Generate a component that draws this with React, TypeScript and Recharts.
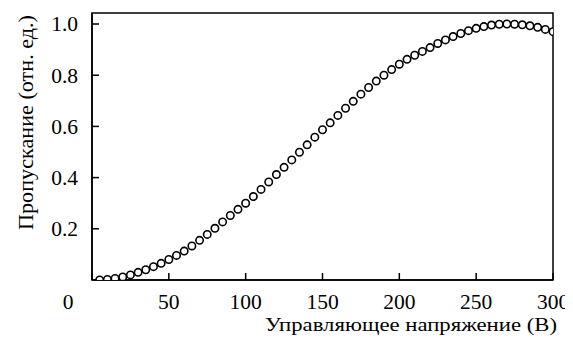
import React from "react";
import { ScatterChart, Scatter, XAxis, YAxis, ReferenceArea, Label } from "recharts";

const voltages = [
  5, 10, 15, 20, 25, 30, 35, 40, 45, 50, 55, 60, 65, 70, 75, 80, 85, 90, 95, 100,
  105, 110, 115, 120, 125, 130, 135, 140, 145, 150, 155, 160, 165, 170, 175, 180, 185, 190, 195, 200,
  205, 210, 215, 220, 225, 230, 235, 240, 245, 250, 255, 260, 265, 270, 275, 280, 285, 290, 295, 300,
];
const transmission = [
  0.0, 0.002, 0.006, 0.012, 0.02, 0.03, 0.04, 0.052, 0.065, 0.08, 0.096, 0.113, 0.133, 0.155, 0.178, 0.202, 0.227, 0.252, 0.276, 0.3,
  0.326, 0.354, 0.383, 0.412, 0.44, 0.469, 0.499, 0.528, 0.558, 0.587, 0.614, 0.643, 0.671, 0.698, 0.726, 0.752, 0.777, 0.8, 0.822, 0.843,
  0.862, 0.878, 0.893, 0.908, 0.924, 0.938, 0.951, 0.963, 0.974, 0.983, 0.99, 0.996, 0.999, 1.0, 0.999, 0.997, 0.993, 0.987, 0.979, 0.97,
];
const xTicks = [0, 50, 100, 150, 200, 250, 300];
const yTicks = [0.2, 0.4, 0.6, 0.8, 1.0];
const xTitle = "Управляющее напряжение (В)";
const yTitle = "Пропускание (отн. ед.)";

const data = voltages.map((v, i) => ({ v, t: transmission[i] }));

const FONT = "'Liberation Serif', 'Times New Roman', serif";
const TICK_FS = 21.5;
const TITLE_FS = 18.5;

const XTick = (props: any) => {
  const { x, payload } = props;
  const dx = payload.value === 0 ? -24 : 0;
  return (
    <text x={x + dx} y={301} textAnchor="middle" fontFamily={FONT} fontSize={TICK_FS} fill="#000">
      {payload.value}
    </text>
  );
};

const YTick = (props: any) => {
  const { y, payload } = props;
  return (
    <text x={70} y={y} dy="0.34em" textAnchor="end" fontFamily={FONT} fontSize={TICK_FS} fill="#000">
      {Number(payload.value).toFixed(1)}
    </text>
  );
};

const Dot = (props: any) => {
  const { cx, cy } = props;
  return <circle cx={cx} cy={cy} r={3.7} fill="#fff" stroke="#000" strokeWidth={1.6} />;
};

export default function App() {
  return (
    <div style={{ width: 565, height: 332 }}>
      <ScatterChart width={565} height={332} margin={{ top: 5, right: 20, bottom: 8, left: 0 }}>
        <ReferenceArea x1={0} x2={300} y1={0} y2={1.043} fill="none" stroke="#000" strokeWidth={1.5} ifOverflow="visible" />
        <XAxis
          type="number"
          dataKey="v"
          domain={[0, 300]}
          ticks={xTicks}
          height={52}
          tickSize={-7}
          tickMargin={23}
          tick={<XTick />}
          axisLine={{ stroke: "#000", strokeWidth: 1.5 }}
          tickLine={{ stroke: "#000", strokeWidth: 1.5 }}
          allowDataOverflow
        >
          <Label
            content={() => (
              <text
                x={257}
                y={323}
                textLength={292}
                lengthAdjust="spacingAndGlyphs"
                fontFamily={FONT}
                fontSize={TITLE_FS}
                fill="#000"
              >
                {xTitle}
              </text>
            )}
          />
        </XAxis>
        <YAxis
          type="number"
          dataKey="t"
          domain={[0, 1.043]}
          ticks={yTicks}
          width={84}
          tickSize={-7}
          tickMargin={21}
          tick={<YTick />}
          axisLine={{ stroke: "#000", strokeWidth: 1.5 }}
          tickLine={{ stroke: "#000", strokeWidth: 1.5 }}
          allowDataOverflow
        >
          <Label
            content={() => (
              <text
                x={0}
                y={0}
                transform="translate(25 222) rotate(-90)"
                textLength={215}
                lengthAdjust="spacingAndGlyphs"
                fontFamily={FONT}
                fontSize={20}
                fill="#000"
              >
                {yTitle}
              </text>
            )}
          />
        </YAxis>
        <Scatter data={data} shape={<Dot />} isAnimationActive={false} />
      </ScatterChart>
    </div>
  );
}
